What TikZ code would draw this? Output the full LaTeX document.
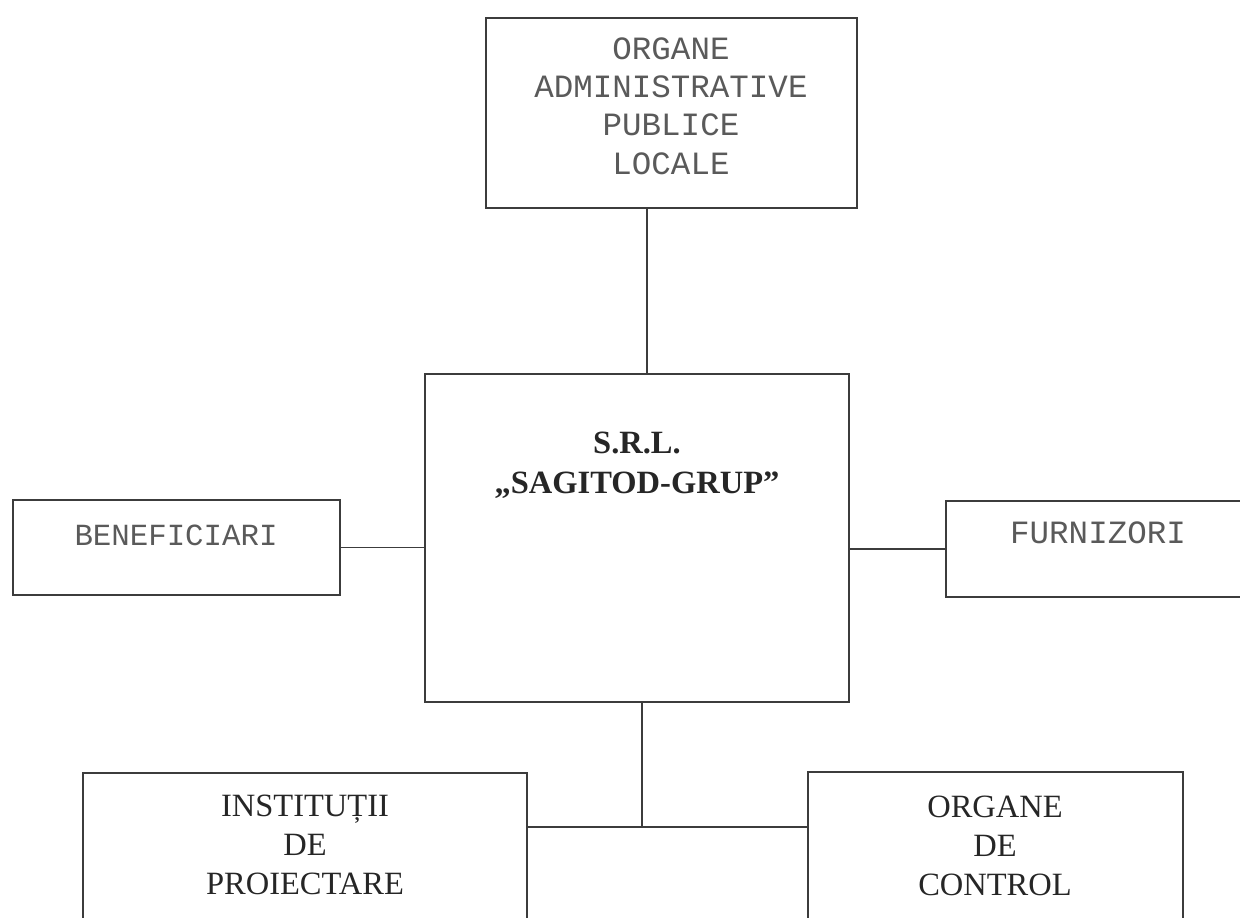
\documentclass[tikz,border=0pt]{standalone}
\usepackage{fontspec}
\setmainfont{Liberation Serif}
\setmonofont{Liberation Mono}
\usetikzlibrary{positioning,fit}
\definecolor{linie}{HTML}{3C3C3C}
\definecolor{scris}{HTML}{5A5A5A}
\tikzset{
  cutie/.style={draw=linie,line width=1.1pt,inner sep=0pt},
  mono/.style={font=\ttfamily\fontsize{18.5}{21.9}\selectfont,text=scris,align=center},
  serif/.style={font=\fontsize{18.5}{22.2}\selectfont,text=black!85,align=center},
  leg/.style={draw=linie,line width=1.1pt},
}

\begin{document}
\begin{tikzpicture}[x=0.02cm,y=-0.02cm]
  \useasboundingbox (0,0) rectangle (1240,917);
  \clip (0,0) rectangle (1240,917);
  % cutiile
  \node[cutie,fit={(486,18) (857,208)}] (organe) {};
  \node[cutie,fit={(425,374) (849,702)}] (firma) {};
  \node[cutie,fit={(13,500) (340,595)}] (benef) {};
  \node[cutie,fit={(946,501) (1252,597)}] (furniz) {};
  \node[cutie,fit={(83,773) (527,950)}] (instit) {};
  \node[cutie,fit={(808,772) (1183,950)}] (control) {};
  % textele
  \node[mono] (torgane) at (671,106) {ORGANE\\ADMINISTRATIVE\\PUBLICE\\LOCALE};
  \node[serif,font=\bfseries\fontsize{18.5}{22.5}\selectfont] (tfirma) at (637,465) {S.R.L.\\„SAGITOD-GRUP”};
  \node[mono,font=\ttfamily\fontsize{17.5}{21}\selectfont] (tbenef) at (176,535) {BENEFICIARI};
  \node[mono] (tfurniz) at (1098,533) {FURNIZORI};
  \node[serif] (tinstit) at (305,845) {INSTITUȚII\\DE\\PROIECTARE};
  \node[serif] (tcontrol) at (995,846) {ORGANE\\DE\\CONTROL};
  % legaturi
  \coordinate (axa) at (647,0);
  \coordinate (nod) at (642,827);
  \draw[leg] (organe.south -| axa) -- (firma.north -| axa);
  \draw[leg] (benef.east) -- (benef.east -| firma.west);
  \draw[leg] (furniz.west) -- (furniz.west -| firma.east);
  \draw[leg] (firma.south -| nod) -- (nod);
  \draw[leg] (instit.east |- nod) -- (control.west |- nod);
\end{tikzpicture}
\end{document}
